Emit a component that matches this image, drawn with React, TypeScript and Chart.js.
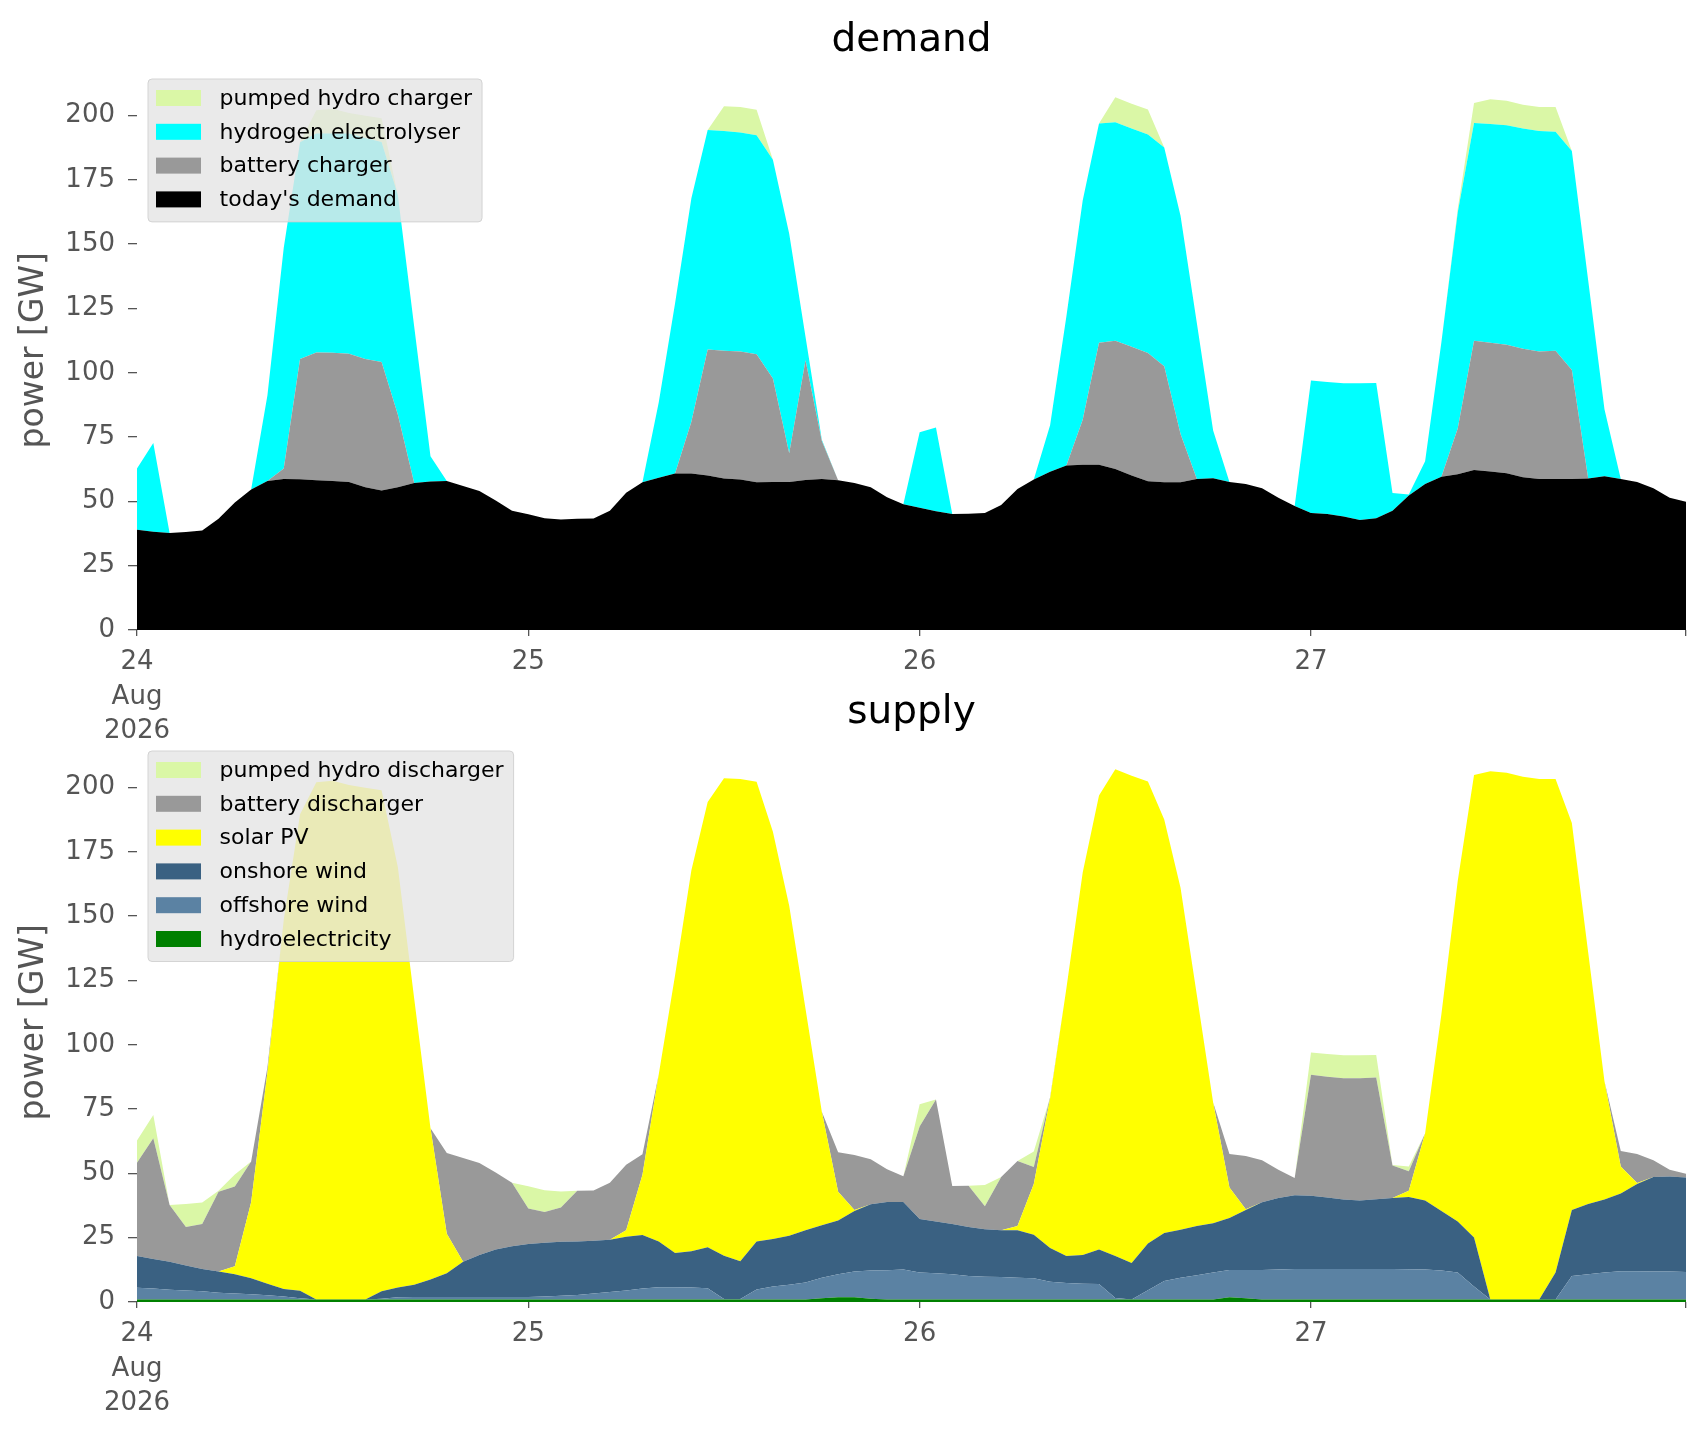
import { useEffect, useRef } from "react"
import { Chart, registerables } from "chart.js"

Chart.register(...registerables)

// hourly values, 24 Aug 2026 00:00 .. 27 Aug 2026 23:00 (GW)
const todaysDemand = [
  39, 38.2, 37.7, 38.1, 38.7, 43.2, 49.6, 54.6, 57.9, 58.7, 58.6, 58.2, 57.9, 57.5, 55.5, 54.2, 55.5, 57.1, 57.7, 57.9, 56, 54, 50.3, 46.4,
  45, 43.4, 43, 43.2, 43.3, 46.4, 53.4, 57.4, 59.2, 60.8, 60.8, 60.1, 58.9, 58.5, 57.4, 57.5, 57.5, 58.3, 58.7, 58.2, 57.1, 55.5, 51.6, 48.9,
  47.5, 46.2, 45.1, 45.2, 45.5, 48.6, 54.8, 58.5, 61.5, 63.9, 64.2, 64.2, 62.6, 60.1, 57.8, 57.4, 57.4, 58.7, 59, 57.5, 56.8, 55.1, 51.4, 48.2,
  45.5, 45.1, 44.1, 42.8, 43.4, 46.4, 52.3, 56.8, 59.6, 60.5, 62.2, 61.6, 60.9, 59.4, 58.7, 58.7, 58.7, 58.9, 59.8, 58.7, 57.5, 55.1, 51.4, 49.9,
]
const batteryCharger = [
  0, 0, 0, 0, 0, 0, 0, 0, 0, 4.1, 46.7, 49.7, 49.9, 49.9, 49.8, 50, 28.2, 0, 0, 0, 0, 0, 0, 0,
  0, 0, 0, 0, 0, 0, 0, 0, 0, 0, 20.2, 48.9, 49.7, 49.8, 49.8, 40.3, 11.2, 46.6, 14.8, 0, 0, 0, 0, 0,
  0, 0, 0, 0, 0, 0, 0, 0, 0, 0, 17.5, 47.5, 49.8, 50, 49.9, 45.1, 18.8, 0, 0, 0, 0, 0, 0, 0,
  0, 0, 0, 0, 0, 0, 0, 0, 0, 17.8, 50.2, 50.1, 50, 49.9, 49.6, 49.9, 42.4, 0, 0, 0, 0, 0, 0, 0,
]
const hydrogenElectrolyser = [
  23.8, 34.5, 0, 0, 0, 0, 0, 0, 33.4, 85.8, 84.3, 85.1, 85.2, 85.6, 86, 85.5, 85.3, 60.9, 9.8, 0, 0, 0, 0, 0,
  0, 0, 0, 0, 0, 0, 0, 0, 29.3, 66.2, 86.8, 85.4, 85.4, 85.1, 85.1, 85, 85.3, 9.1, 0.5, 0, 0, 0, 0, 0,
  29.4, 32.5, 0, 0, 0, 0, 0, 0, 18.1, 58.1, 85.3, 85.2, 85, 84.9, 84.9, 85.1, 84.8, 60.6, 18.6, 0, 0, 0, 0, 0,
  51.5, 51.3, 51.8, 53.1, 52.6, 6.9, 0.4, 8.8, 52.4, 84, 84.7, 85, 85.3, 85.7, 85.7, 85.1, 85.1, 77.1, 26, 0, 0, 0, 0, 0,
]
const pumpedHydroCharger = [
  0, 0, 0, 0, 0, 0, 0, 0, 0, 0, 0, 9, 9.6, 8, 8.6, 9.2, 0, 0, 0, 0, 0, 0, 0, 0,
  0, 0, 0, 0, 0, 0, 0, 0, 0, 0, 0, 0, 9.6, 9.9, 9.9, 0, 0, 0, 0, 0, 0, 0, 0, 0,
  0, 0, 0, 0, 0, 0, 0, 0, 0, 0, 0, 0, 9.7, 9.6, 9.7, 0, 0, 0, 0, 0, 0, 0, 0, 0,
  0, 0, 0, 0, 0, 0, 0, 0, 0, 1.4, 7.8, 9.6, 9.5, 9.2, 9.3, 9.6, 0, 0, 0, 0, 0, 0, 0, 0,
]

const hydroelectricity = [
  1, 1, 1, 1, 1, 1, 1, 1, 1, 1, 1, 1, 1, 1, 1, 1, 1, 1, 1, 1, 1, 1, 1, 1,
  1, 1, 1, 1, 1, 1, 1, 1, 1, 1, 1, 1, 1, 1, 1, 1, 1, 1, 1.5, 1.8, 1.8, 1.3, 1, 1,
  1, 1, 1, 1, 1, 1, 1, 1, 1, 1, 1, 1, 1, 1, 1, 1, 1, 1, 1, 1.8, 1.5, 1, 1, 1,
  1, 1, 1, 1, 1, 1, 1, 1, 1, 1, 1, 1, 1, 1, 1, 1, 1, 1, 1, 1, 1, 1, 1, 1,
]
const offshoreWind = [
  4.5, 4.2, 3.8, 3.5, 3.2, 2.6, 2.3, 2, 1.6, 1.1, 0.5, 0, 0, 0, 0, 0.3, 0.8, 0.9, 0.9, 0.9, 0.9, 0.9, 0.9, 0.9,
  0.9, 1.1, 1.4, 1.7, 2.3, 2.9, 3.5, 4.2, 4.7, 4.7, 4.6, 4.3, 0.2, 0.2, 3.9, 5, 5.7, 6.6, 7.9, 9, 10.1, 10.9, 11.3, 11.6,
  10.5, 10.2, 9.8, 9.1, 8.8, 8.7, 8.4, 8.2, 6.9, 6.4, 6.1, 6, 0.6, 0, 3.6, 7.2, 8.4, 9.4, 10.5, 10.6, 10.9, 11.4, 11.6, 11.8,
  11.8, 11.8, 11.8, 11.8, 11.8, 11.8, 11.7, 11.6, 11.2, 10.5, 5, 0, 0, 0, 0, 0, 9.1, 9.8, 10.5, 11, 11, 10.9, 10.9, 10.7,
]
const onshoreWind = [
  12.4, 11.5, 10.8, 9.7, 8.6, 8.3, 7.5, 6.2, 4.5, 3, 2.9, 0, 0, 0, 0, 2.9, 3.8, 4.8, 6.8, 9.3, 13.7, 16.4, 18.5, 19.8,
  20.6, 20.9, 21, 20.8, 20.5, 20.3, 20.9, 20.8, 17.8, 13.3, 14.1, 16, 16.8, 14.6, 18.6, 18.5, 19.1, 20.3, 20.4, 20.9, 23.5, 25.8, 26.6, 26.3,
  20.8, 20.1, 19.5, 19.1, 18.5, 18.2, 18.5, 16.9, 13.1, 10.5, 11.2, 13.4, 16.3, 14.2, 18.1, 18.6, 18.7, 19.1, 19.1, 20.3, 23.4, 26.4, 27.8, 28.7,
  28.5, 27.8, 27, 26.7, 27.1, 27.6, 28.1, 26.9, 23.2, 19.8, 19.1, 0, 0, 0, 0, 10.5, 25.7, 27.3, 28.3, 30.2, 33.9, 36.7, 36.9, 36.7,
]
const solarPV = [
  0, 0, 0, 0, 0, 0, 3.1, 29.6, 82.2, 143.5, 185.2, 201, 201.6, 200, 198.9, 194.7, 163.4, 111.3, 58.8, 15.3, 0, 0, 0, 0,
  0, 0, 0, 0, 0, 0, 2.5, 23.5, 65, 108, 148.1, 173.1, 185.6, 187.5, 178.7, 158.3, 128.2, 86.1, 44.2, 11.2, 0.4, 0, 0, 0,
  0, 0, 0, 0, 0, 0, 1.6, 19.8, 58.1, 104.1, 148.7, 176.5, 189.2, 189.4, 179.6, 160.8, 132.9, 89.8, 47, 11.8, 0.3, 0, 0, 0,
  0, 0, 0, 0, 0, 0, 2.4, 26.1, 76.6, 132.4, 179.8, 205.3, 204.7, 203.2, 202.3, 191.8, 150.4, 97.9, 46, 10.5, 0.4, 0, 0, 0,
]
const batteryDischarger = [
  36.2, 47, 22.1, 15, 17.5, 31, 31, 15.8, 2, 0, 0, 0, 0, 0, 0, 0, 0, 0, 0, 31.4, 40.4, 35.7, 29.9, 24.7,
  13.8, 12, 13.3, 19.7, 19.5, 22.2, 25.5, 7.9, 0, 0, 0, 0, 0, 0, 0, 0, 0, 0, 0, 15.3, 21.3, 17.5, 12.7, 10,
  35.9, 47.4, 14.8, 16, 8.9, 20.7, 25.3, 6.6, 0.5, 0, 0, 0, 0, 0, 0, 0, 0, 0, 0, 13, 20.7, 16.3, 11, 6.7,
  47, 47, 47.2, 47.5, 47.4, 12.7, 7.6, 0, 0, 0, 0, 0, 0, 0, 0, 0, 0, 0, 0, 6, 11.2, 6.5, 2.6, 1.5,
]
const pumpedHydroDischarger = [
  8.7, 9, 0, 8.9, 8.4, 0.3, 4.7, 0, 0, 0, 0, 0, 0, 0, 0, 0, 0, 0, 0, 0, 0, 0, 0, 0,
  8.7, 8.4, 6.3, 0, 0, 0, 0, 0, 0, 0, 0, 0, 0, 0, 0, 0, 0, 0, 0, 0, 0, 0, 0, 0,
  8.7, 0, 0, 0, 8.3, 0, 0, 6, 0, 0, 0, 0, 0, 0, 0, 0, 0, 0, 0, 0, 0, 0, 0, 0,
  8.7, 8.8, 8.9, 8.9, 8.7, 0.2, 1.9, 0, 0, 0, 0, 0, 0, 0, 0, 0, 0, 0, 0, 0, 0, 0, 0, 0,
]

// x ticks: hour index -> label
const dayTickHours = [0, 24, 48, 72, 95]
const dayTickLabels: (string | string[])[] = [["24", "Aug", "2026"], "25", "26", "27", ""]
const powerTicks = [0, 25, 50, 75, 100, 125, 150, 175, 200]

interface Series {
  label: string
  color: string
  data: number[]
}

// bottom to top
const demandSeries: Series[] = [
  { label: "today's demand", color: "#000000", data: todaysDemand },
  { label: "battery charger", color: "#999999", data: batteryCharger },
  { label: "hydrogen electrolyser", color: "#00ffff", data: hydrogenElectrolyser },
  { label: "pumped hydro charger", color: "#daf7a6", data: pumpedHydroCharger },
]
const supplySeries: Series[] = [
  { label: "hydroelectricity", color: "#008000", data: hydroelectricity },
  { label: "offshore wind", color: "#5b82a3", data: offshoreWind },
  { label: "onshore wind", color: "#3a6182", data: onshoreWind },
  { label: "solar PV", color: "#ffff00", data: solarPV },
  { label: "battery discharger", color: "#999999", data: batteryDischarger },
  { label: "pumped hydro discharger", color: "#daf7a6", data: pumpedHydroDischarger },
]

const FONT = "'DejaVu Sans', sans-serif"
const TICK_COLOR = "#555555"

const panelDecor = {
  id: "panelDecor",
  afterDraw(chart: any, _args: any, opts: any) {
    const { ctx, chartArea } = chart
    ctx.save()
    ctx.fillStyle = "#000"
    ctx.font = `39px ${FONT}`
    ctx.textAlign = "center"
    ctx.textBaseline = "middle"
    ctx.fillText(opts.title, (chartArea.left + chartArea.right) / 2, opts.titleY)

    // legend, top entry first
    const items: Series[] = [...opts.items].reverse()
    ctx.font = `22px ${FONT}`
    const textW = Math.max(...items.map((it) => ctx.measureText(it.label).width))
    const bx = chartArea.left + 11
    const by = chartArea.top + 8.5
    const bw = 71.6 + textW + 10
    const bh = 41.5 + 33.8 * (items.length - 1)
    ctx.beginPath()
    if (ctx.roundRect) ctx.roundRect(bx, by, bw, bh, 4)
    else ctx.rect(bx, by, bw, bh)
    ctx.fillStyle = "rgba(229,229,229,0.8)"
    ctx.fill()
    ctx.strokeStyle = "rgba(204,204,204,0.8)"
    ctx.lineWidth = 1
    ctx.stroke()
    ctx.textAlign = "left"
    items.forEach((it, i) => {
      const cy = by + 19 + i * 33.8
      ctx.fillStyle = it.color
      ctx.fillRect(bx + 8, cy - 8, 45, 16)
      ctx.fillStyle = "#000"
      ctx.fillText(it.label, bx + 71.6, cy + 1)
    })
    ctx.restore()
  },
}

const StackPanel = ({ title, series, top }: { title: string; series: Series[]; top: number }) => {
  const canvasRef = useRef<HTMLCanvasElement>(null)
  const chartRef = useRef<Chart | null>(null)

  useEffect(() => {
    if (!canvasRef.current) return
    if (chartRef.current) chartRef.current.destroy()

    chartRef.current = new Chart(canvasRef.current, {
      type: "line",
      data: {
        datasets: series.map((s, i) => ({
          label: s.label,
          data: s.data.map((v, h) => ({ x: h, y: v })),
          backgroundColor: s.color,
          borderColor: s.color,
          borderWidth: 0,
          pointRadius: 0,
          tension: 0,
          fill: i === 0 ? "origin" : "-1",
        })),
      },
      options: {
        animation: false,
        responsive: false,
        devicePixelRatio: 1,
        layout: { padding: { top: 70.5, right: 20, left: 0, bottom: 0 } },
        plugins: {
          legend: { display: false },
          tooltip: { enabled: false },
          panelDecor: { title, titleY: 41, items: series },
        } as any,
        scales: {
          x: {
            type: "linear",
            min: 0,
            max: 95,
            border: { display: false },
            grid: { drawOnChartArea: false, drawTicks: true, tickLength: 6, color: TICK_COLOR, lineWidth: 1.3 },
            afterBuildTicks: (scale: any) => {
              scale.ticks = dayTickHours.map((v) => ({ value: v }))
            },
            afterFit: (scale: any) => {
              scale.height = 129
            },
            ticks: {
              autoSkip: false,
              maxRotation: 0,
              color: TICK_COLOR,
              padding: 9,
              font: { family: FONT, size: 26, lineHeight: 1.33 },
              callback: (value: any) => {
                const idx = dayTickHours.indexOf(Number(value))
                return idx >= 0 ? dayTickLabels[idx] : ""
              },
            },
          },
          y: {
            stacked: true,
            min: 0,
            max: 217.5,
            border: { display: false },
            grid: { drawOnChartArea: false, drawTicks: true, tickLength: 9, color: TICK_COLOR, lineWidth: 1.3 },
            afterBuildTicks: (scale: any) => {
              scale.ticks = powerTicks.map((v) => ({ value: v }))
            },
            afterFit: (scale: any) => {
              scale.width = 137
            },
            title: {
              display: true,
              text: "power [GW]",
              color: TICK_COLOR,
              font: { family: FONT, size: 33 },
              padding: { top: 15, bottom: 0 },
            },
            ticks: {
              color: TICK_COLOR,
              padding: 13,
              font: { family: FONT, size: 26 },
            },
          },
        },
      },
      plugins: [panelDecor],
    })

    return () => {
      if (chartRef.current) {
        chartRef.current.destroy()
        chartRef.current = null
      }
    }
  }, [title, series])

  return (
    <canvas
      ref={canvasRef}
      width={1706}
      height={759}
      style={{ position: "absolute", left: 0, top, width: 1706, height: 759 }}
    />
  )
}

export default function App() {
  useEffect(() => {
    document.body.style.margin = "0"
    document.body.style.background = "#ffffff"
  }, [])

  return (
    <div style={{ position: "relative", width: 1706, height: 1431, overflow: "hidden", background: "#fff" }}>
      <StackPanel title="demand" series={demandSeries} top={0} />
      <StackPanel title="supply" series={supplySeries} top={672} />
    </div>
  )
}
